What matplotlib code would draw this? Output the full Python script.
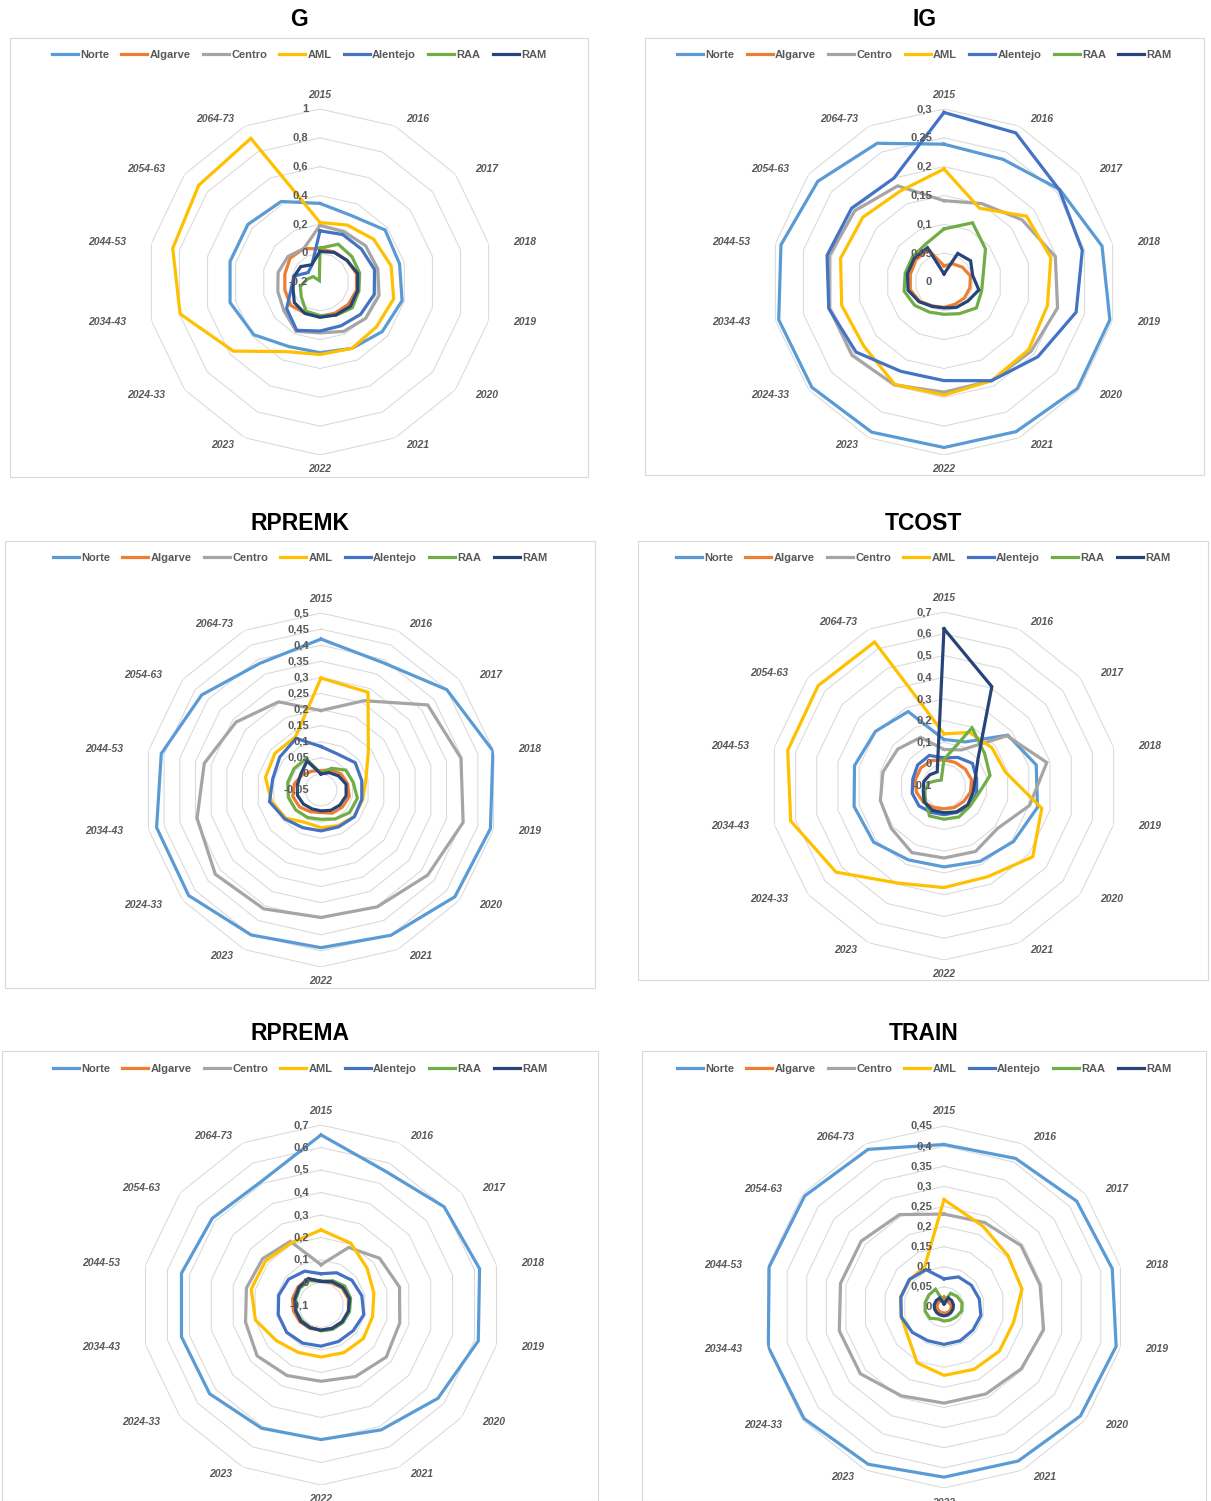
import numpy as np
import matplotlib.pyplot as plt
from matplotlib.patches import Rectangle

plt.rcParams['font.family'] = ['Liberation Sans', 'DejaVu Sans']

#-----------------------------------------------------------------------------------------------------------------------
# Data

categories = ['2015', '2016', '2017', '2018', '2019', '2020', '2021', '2022', '2023',
              '2024-33', '2034-43', '2044-53', '2054-63', '2064-73']
regions = ['Norte', 'Algarve', 'Centro', 'AML', 'Alentejo', 'RAA', 'RAM']
colors = ['#5B9BD5', '#ED7D31', '#A5A5A5', '#FFC000', '#4472C4', '#70AD47', '#264478']

# G
g_ticks = [-0.2, 0, 0.2, 0.4, 0.6, 0.8, 1]
g_norte = [0.345, 0.31, 0.378, 0.366, 0.384, 0.352, 0.311, 0.29, 0.297, 0.387, 0.44, 0.44, 0.44, 0.42]
g_algarve = [0.03, 0.03, 0.04, 0.06, 0.06, 0.05, 0.04, 0.038, 0.04, 0.06, 0.05, 0.05, 0.065, 0.058]
g_centro = [0.193, 0.186, 0.204, 0.211, 0.22, 0.205, 0.18, 0.153, 0.18, 0.12, 0.10, 0.098, 0.084, 0.058]
g_aml = [0.213, 0.238, 0.276, 0.306, 0.324, 0.30, 0.311, 0.303, 0.336, 0.569, 0.795, 0.848, 0.876, 0.906]
g_alentejo = [0.155, 0.165, 0.167, 0.188, 0.186, 0.16, 0.137, 0.14, 0.172, 0.096, 0.005, -0.015, -0.095, -0.07]
g_raa = [0.035, 0.091, 0.083, 0.082, 0.077, 0.087, 0.056, 0.033, 0.024, -0.034, -0.06, -0.11, -0.14, -0.19]
g_ram = [0.012, 0.028, 0.04, 0.068, 0.068, 0.07, 0.054, 0.045, 0.042, 0.028, -0.008, -0.017, -0.029, -0.067]

# IG
ig_ticks = [0, 0.05, 0.1, 0.15, 0.2, 0.25, 0.3]
ig_norte = [0.239, 0.236, 0.257, 0.281, 0.295, 0.296, 0.288, 0.287, 0.289, 0.293, 0.294, 0.29, 0.28, 0.267]
ig_algarve = [0.028, 0.035, 0.041, 0.047, 0.046, 0.045, 0.043, 0.044, 0.046, 0.054, 0.06, 0.06, 0.062, 0.062]
ig_centro = [0.141, 0.151, 0.173, 0.198, 0.202, 0.193, 0.19, 0.191, 0.198, 0.204, 0.204, 0.204, 0.198, 0.185]
ig_aml = [0.196, 0.142, 0.183, 0.19, 0.184, 0.188, 0.19, 0.196, 0.197, 0.178, 0.182, 0.184, 0.18, 0.175]
ig_alentejo = [0.294, 0.287, 0.256, 0.246, 0.235, 0.208, 0.19, 0.171, 0.172, 0.195, 0.205, 0.208, 0.205, 0.2]
ig_raa = [0.092, 0.114, 0.092, 0.07, 0.067, 0.072, 0.061, 0.056, 0.058, 0.065, 0.071, 0.069, 0.07, 0.073]
ig_ram = [0.014, 0.055, 0.059, 0.051, 0.062, 0.053, 0.049, 0.045, 0.047, 0.055, 0.064, 0.065, 0.066, 0.066]

# RPREMK
rk_ticks = [-0.05, 0, 0.05, 0.1, 0.15, 0.2, 0.25, 0.3, 0.35, 0.4, 0.45, 0.5]
rk_norte = [0.419, 0.39, 0.45, 0.498, 0.49, 0.482, 0.451, 0.44, 0.45, 0.476, 0.474, 0.459, 0.424, 0.387]
rk_algarve = [0.01, 0.02, 0.03, 0.035, 0.04, 0.035, 0.03, 0.02, 0.025, 0.035, 0.04, 0.035, 0.025, 0.015]
rk_centro = [0.197, 0.258, 0.374, 0.396, 0.403, 0.374, 0.353, 0.346, 0.36, 0.37, 0.345, 0.322, 0.288, 0.254]
rk_aml = [0.298, 0.287, 0.138, 0.093, 0.083, 0.082, 0.073, 0.067, 0.062, 0.09, 0.108, 0.127, 0.133, 0.133]
rk_alentejo = [0.085, 0.073, 0.086, 0.08, 0.08, 0.083, 0.077, 0.077, 0.08, 0.094, 0.114, 0.104, 0.114, 0.128]
rk_raa = [0.002, 0.025, 0.049, 0.053, 0.066, 0.063, 0.05, 0.041, 0.045, 0.05, 0.054, 0.056, 0.057, 0.058]
rk_ram = [0.0, 0.01, 0.02, 0.03, 0.03, 0.025, 0.02, 0.015, 0.015, 0.02, 0.025, 0.025, 0.03, 0.05]

# TCOST
tc_ticks = [-0.1, 0, 0.1, 0.2, 0.3, 0.4, 0.5, 0.6, 0.7]
tc_norte = [0.114, 0.125, 0.275, 0.335, 0.341, 0.309, 0.284, 0.272, 0.277, 0.314, 0.324, 0.322, 0.303, 0.28]
tc_algarve = [0.02, 0.02, 0.025, 0.03, 0.025, 0.015, 0.01, 0.005, 0.01, 0.02, 0.03, 0.035, 0.035, 0.03]
tc_centro = [0.068, 0.084, 0.27, 0.385, 0.303, 0.214, 0.234, 0.231, 0.24, 0.211, 0.2, 0.188, 0.172, 0.148]
tc_aml = [0.14, 0.173, 0.182, 0.189, 0.361, 0.422, 0.363, 0.367, 0.395, 0.535, 0.623, 0.637, 0.64, 0.635]
tc_alentejo = [0.029, 0.046, 0.067, 0.054, 0.054, 0.05, 0.035, 0.032, 0.035, 0.047, 0.05, 0.047, 0.055, 0.056]
tc_raa = [0.022, 0.197, 0.139, 0.117, 0.062, 0.051, 0.058, 0.053, 0.053, 0.009, -0.01, -0.03, -0.06, -0.07]
tc_ram = [0.623, 0.407, 0.1, 0.047, 0.037, 0.039, 0.032, 0.023, 0.024, 0.017, -0.002, -0.005, -0.017, -0.028]

# RPREMA
ra_ticks = [-0.1, 0, 0.1, 0.2, 0.3, 0.4, 0.5, 0.6, 0.7]
ra_norte = [0.656, 0.56, 0.60, 0.623, 0.617, 0.565, 0.516, 0.498, 0.508, 0.533, 0.536, 0.536, 0.518, 0.51]
ra_algarve = [0.005, 0.01, 0.02, 0.025, 0.025, 0.02, 0.015, 0.012, 0.015, 0.02, 0.025, 0.03, 0.03, 0.03]
ra_centro = [0.079, 0.184, 0.233, 0.258, 0.259, 0.271, 0.253, 0.239, 0.248, 0.263, 0.244, 0.24, 0.231, 0.214]
ra_aml = [0.234, 0.205, 0.162, 0.141, 0.135, 0.14, 0.135, 0.131, 0.134, 0.154, 0.199, 0.218, 0.215, 0.206]
ra_alentejo = [0.039, 0.059, 0.076, 0.086, 0.095, 0.083, 0.08, 0.083, 0.088, 0.095, 0.095, 0.093, 0.084, 0.067]
ra_raa = [0.005, 0.02, 0.035, 0.035, 0.03, 0.025, 0.02, 0.015, 0.01, 0.01, 0.015, 0.015, 0.02, 0.02]
ra_ram = [0.005, 0.015, 0.025, 0.03, 0.025, 0.02, 0.015, 0.012, 0.012, 0.015, 0.015, 0.02, 0.025, 0.03]

# TRAIN
tr_ticks = [0, 0.05, 0.1, 0.15, 0.2, 0.25, 0.3, 0.35, 0.4, 0.45]
tr_norte = [0.404, 0.41, 0.422, 0.429, 0.439, 0.434, 0.425, 0.423, 0.434, 0.445, 0.448, 0.446, 0.443, 0.435]
tr_algarve = [0.025, 0.015, 0.017, 0.018, 0.018, 0.017, 0.016, 0.015, 0.015, 0.016, 0.017, 0.018, 0.018, 0.018]
tr_centro = [0.231, 0.233, 0.245, 0.245, 0.254, 0.246, 0.24, 0.239, 0.245, 0.266, 0.267, 0.264, 0.263, 0.255]
tr_aml = [0.267, 0.223, 0.204, 0.199, 0.177, 0.176, 0.172, 0.17, 0.154, 0.115, 0.109, 0.111, 0.109, 0.111]
tr_alentejo = [0.07, 0.083, 0.087, 0.09, 0.094, 0.092, 0.093, 0.093, 0.093, 0.101, 0.109, 0.11, 0.11, 0.103]
tr_raa = [0.012, 0.038, 0.042, 0.046, 0.045, 0.039, 0.036, 0.035, 0.033, 0.045, 0.048, 0.048, 0.048, 0.049]
tr_ram = [0.008, 0.025, 0.025, 0.024, 0.023, 0.022, 0.022, 0.022, 0.022, 0.023, 0.024, 0.025, 0.025, 0.025]

#-----------------------------------------------------------------------------------------------------------------------
# Layout (pixels): title, ticks, series, radar center, radius, panel box, title y, legend y

panels = [
    ('G', g_ticks, [g_norte, g_algarve, g_centro, g_aml, g_alentejo, g_raa, g_ram],
     (320, 282), 173, (10, 38, 588, 477), 20, 55),
    ('IG', ig_ticks, [ig_norte, ig_algarve, ig_centro, ig_aml, ig_alentejo, ig_raa, ig_ram],
     (944, 282), 173, (645, 38, 1204, 475), 20, 55),
    ('RPREMK', rk_ticks, [rk_norte, rk_algarve, rk_centro, rk_aml, rk_alentejo, rk_raa, rk_ram],
     (321, 790), 177, (5, 541, 595, 988), 524, 558),
    ('TCOST', tc_ticks, [tc_norte, tc_algarve, tc_centro, tc_aml, tc_alentejo, tc_raa, tc_ram],
     (944, 786), 174, (638, 541, 1208, 980), 524, 558),
    ('RPREMA', ra_ticks, [ra_norte, ra_algarve, ra_centro, ra_aml, ra_alentejo, ra_raa, ra_ram],
     (321, 1305), 180, (2, 1051, 598, 1501), 1034, 1069),
    ('TRAIN', tr_ticks, [tr_norte, tr_algarve, tr_centro, tr_aml, tr_alentejo, tr_raa, tr_ram],
     (944, 1307), 181, (642, 1051, 1206, 1501), 1034, 1069),
]

W, H = 1211, 1501
PT = 0.72  # points per pixel at dpi 100
GRID = '#D9D9D9'
TXT = '#595959'

fig = plt.figure(figsize=(W / 100, H / 100), dpi=100)
fig.patch.set_facecolor('white')

n = len(categories)
theta = np.linspace(0, 2 * np.pi, n, endpoint=False)
theta_c = np.append(theta, theta[0])

for title, ticks, series, (cx, cy), R, (bx0, by0, bx1, by1), ty, ly in panels:
    # panel frame + title
    fig.add_artist(Rectangle((bx0 / W, 1 - by1 / H), (bx1 - bx0) / W, (by1 - by0) / H,
                             transform=fig.transFigure, fill=False, edgecolor=GRID, lw=0.8))
    panel_cx = (bx0 + bx1) / 2
    fig.text(panel_cx / W, 1 - ty / H, title, ha='center', va='center',
             fontsize=16.5, fontweight='bold', color='black')

    ax = fig.add_axes([(cx - R) / W, 1 - (cy + R) / H, 2 * R / W, 2 * R / H], projection='polar')
    ax.set_theta_zero_location('N')
    ax.set_theta_direction(-1)
    ax.set_ylim(ticks[0], ticks[-1])
    ax.set_xticks([])
    ax.set_yticks([])
    ax.grid(False)
    ax.spines['polar'].set_visible(False)
    ax.patch.set_alpha(0)

    # polygon gridlines
    for lvl in ticks[1:]:
        ax.plot(theta_c, [lvl] * (n + 1), color=GRID, lw=0.75, zorder=1)

    handles = []
    for vals, col, name in zip(series, colors, regions):
        v = np.append(vals, vals[0])
        ln, = ax.plot(theta_c, v, color=col, lw=2.3, solid_joinstyle='miter', zorder=3, label=name)
        handles.append(ln)

    # value labels along the 2015 axis
    for lvl in ticks:
        lab = f'{lvl:g}'.replace('.', ',')
        ax.annotate(lab, xy=(0, lvl), xytext=(-8.5, 0), textcoords='offset points',
                    ha='right', va='center', fontsize=8, fontweight='bold', color=TXT,
                    annotation_clip=False, zorder=4)

    # category labels
    for th, lab in zip(theta, categories):
        s, c = np.sin(th), np.cos(th)
        if abs(s) < 1e-6:
            ha, dx, dy = 'center', 0, 14.5 * c
        else:
            ha = 'left' if s > 0 else 'right'
            dx, dy = 25.6 * s, 7.5 * c
        ax.annotate(lab, xy=(th, ticks[-1]), xytext=(dx * PT, dy * PT), textcoords='offset points',
                    ha=ha, va='center', fontsize=7.5, fontweight='bold', fontstyle='italic',
                    color=TXT, annotation_clip=False)

    ax.legend(handles, regions, loc='center', bbox_to_anchor=(panel_cx / W, 1 - ly / H),
              bbox_transform=fig.transFigure, ncol=7, frameon=False,
              handlelength=2.35, handletextpad=0.2, columnspacing=1.1, labelcolor=TXT,
              prop={'weight': 'bold', 'size': 8})

fig.savefig('out.png', dpi=100, facecolor='white')
